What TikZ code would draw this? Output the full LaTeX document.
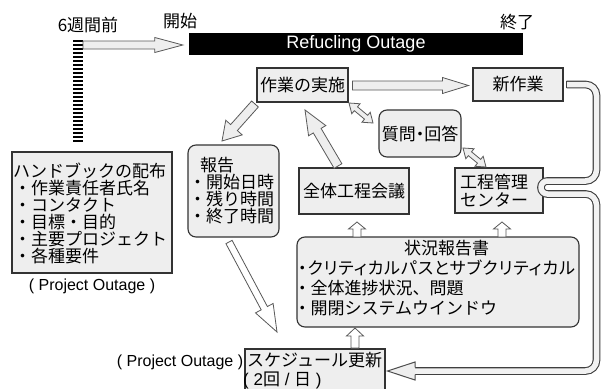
\documentclass[tikz,border=0pt]{standalone}
\usepackage{fontspec}
\setmainfont{Liberation Sans}
\newfontfamily\jp{Noto Sans CJK JP}
\newfontfamily\jpp{Noto Sans CJK JP}[RawFeature=+palt]
\newfontfamily\jpw{Noto Sans CJK JP}[RawFeature=+palt, LetterSpace=5]
\usetikzlibrary{calc}
\newcommand\blkarrow[6][]{%
  \coordinate (bkH) at ($(#3)!#6!(#2)$);
  \draw[blockarr,#1] ($(#2)!#4!90:(#3)$) -- ($(bkH)!#4!90:(#3)$) -- ($(bkH)!#5!90:(#3)$) -- (#3) -- ($(bkH)!#5!-90:(#3)$) -- ($(bkH)!#4!-90:(#3)$) -- ($(#2)!#4!-90:(#3)$) -- cycle;
}
\newcommand\dblarrow[6][]{%
  \coordinate (dbA) at ($(#2)!#6!(#3)$);
  \coordinate (dbB) at ($(#3)!#6!(#2)$);
  \draw[blockarr,#1] (#2) -- ($(dbA)!#5!90:(#3)$) -- ($(dbA)!#4!90:(#3)$) -- ($(dbB)!#4!90:(#3)$) -- ($(dbB)!#5!90:(#3)$) -- (#3) -- ($(dbB)!#5!-90:(#3)$) -- ($(dbB)!#4!-90:(#3)$) -- ($(dbA)!#4!-90:(#3)$) -- ($(dbA)!#5!-90:(#3)$) -- cycle;
}
\begin{document}
\begin{tikzpicture}[x=1pt,y=-1pt,
  box/.style={draw=black!80, fill=gray!13, line width=1.1pt, inner sep=0pt},
  rbox/.style={box, rounded corners=8pt},
  blockarr/.style={draw=black!65, fill=gray!13, line width=0.8pt, line join=miter},
  whitearr/.style={fill=white},
  jtxt/.style={font=\jp\fontsize{17}{17}\selectfont, inner sep=0pt},
  ltxt/.style={font=\fontsize{16}{18}\selectfont, inner sep=0pt},
  pipe/.style={draw=black!75, line width=1.1pt, double=gray!10, double distance=5.5pt},
]
\fill[white] (0,0) rectangle (602,388);
\useasboundingbox (0,0) rectangle (602,388);
\clip (0,0) rectangle (602,388);

% top labels and bar
\node[jtxt] (weeks) at (88,25) {6週間前};
\node[jtxt] (startlbl) at (180,21) {開始};
\node[jtxt] (endlbl) at (517,22) {終了};
\node[fill=black, minimum width=334pt, minimum height=22pt, inner sep=0pt, text=white, font=\fontsize{18}{18}\selectfont] (outage) at (356,44) {Refucling Outage};
\draw[line width=10pt, dash pattern=on 2pt off 2pt] (78,40) coordinate (bartop) -- (78,143) coordinate (barbot);

% boxes
\node[box, jtxt, minimum width=91pt, minimum height=34pt] (jisshi) at (302.5,85) {作業の実施};
\node[box, jtxt, minimum width=90pt, minimum height=33pt] (shin) at (518,84.5) {新作業};
\node[rbox, font=\jpp\fontsize{17}{17}\selectfont, minimum width=82pt, minimum height=47pt] (qa) at (420,133.5) {質問・回答};
\node[box, minimum width=88pt, minimum height=45pt] (kanri) at (499,190.5) {};
\node[align=left, anchor=west, inner sep=0pt, font=\jp\fontsize{17}{18}\selectfont] (kanritext) at (460,191) {工程管理\\センター};
\node[box, jtxt, minimum width=110pt, minimum height=46pt] (kaigi) at (354,191) {全体工程会議};
\node[rbox, minimum width=91pt, minimum height=92pt] (houkoku) at (233.5,191) {};
\node[align=left, anchor=west, inner sep=0pt, font=\jp\fontsize{17}{17}\selectfont] (houkokutext) at (189,190.5) {\hspace*{11pt}報告\\・開始日時\\・残り時間\\・終了時間};
\node[rbox, minimum width=282pt, minimum height=90pt] (joukyou) at (438,282) {};
\node[align=left, anchor=west, inner sep=0pt, font=\jp\fontsize{17}{20}\selectfont] (joukyoutext) at (298,278) {\hspace*{106pt}状況報告書\\{\jpw ・クリティカルパスとサブクリティカル}\\{\jpp・}\hspace{4pt}全体進捗状況、問題\\{\jpp・}\hspace{4pt}開閉システムウインドウ};
\node[box, minimum width=140pt, minimum height=52pt] (sched) at (315,375) {};
\node[jtxt, anchor=west] (schedA) at (247,360) {スケジュール更新};
\node[jtxt, anchor=west] (schedB) at (243,380) {{\rmfamily( 2}回{\rmfamily\ / }日{\rmfamily\ )}};
\node[ltxt] (po2) at (180,362) {( Project Outage )};
\node[box, minimum width=160pt, minimum height=121pt] (handbook) at (92,212.5) {};
\node[align=left, anchor=west, inner sep=0pt, font=\jp\fontsize{17}{17}\selectfont] (handbooktext) at (13,213) {ハンドブックの配布\\\hspace*{1pt}・作業責任者氏名\\\hspace*{1pt}・コンタクト\\\hspace*{1pt}・目標・目的\\\hspace*{1pt}・主要プロジェクト\\\hspace*{1pt}・各種要件};
\node[ltxt] (po1) at (92,286) {( Project Outage )};

% arrow end points
\coordinate (a1) at (83,45);
\coordinate (a2) at ($(outage.west)+(-6,1)$);
\coordinate (b1) at ($(jisshi.east)+(4,0.5)$);
\coordinate (b2) at ($(shin.west)+(-4,1)$);
\coordinate (c1) at (255,104);
\coordinate (c2) at (222,141);
\coordinate (d1) at (338,166);
\coordinate (d2) at (305,110);
\coordinate (e1) at (229,242);
\coordinate (e2) at (277,332);
\coordinate (f1) at (357,237);
\coordinate (f2) at (357,222);
\coordinate (g1) at (502,237);
\coordinate (g2) at (502,222);
\coordinate (h1) at (355,348);
\coordinate (h2) at (355,328);
\coordinate (i1) at (349,103);
\coordinate (i2) at (373,123);
\coordinate (j1) at (463,148);
\coordinate (j2) at (486,167);

\blkarrow{a1}{a2}{4pt}{7.5pt}{28pt}
\blkarrow{b1}{b2}{4.5pt}{8pt}{26pt}
\blkarrow{c1}{c2}{4.5pt}{11pt}{18pt}
\blkarrow{d1}{d2}{4.5pt}{10pt}{24pt}
\blkarrow[whitearr]{e1}{e2}{3.5pt}{10pt}{27pt}
\blkarrow[whitearr]{f1}{f2}{4pt}{8.5pt}{7pt}
\blkarrow[whitearr]{g1}{g2}{4pt}{8.5pt}{7pt}
\blkarrow[whitearr]{h1}{h2}{4pt}{8.5pt}{8pt}
\dblarrow{i1}{i2}{2.5pt}{6.5pt}{9pt}
\dblarrow{j1}{j2}{2.5pt}{6.5pt}{9pt}

% pipe from shin to sched
\coordinate (p0) at ($(shin.east)+(3,0)$);
\coordinate (pe) at (415,371);
\coordinate (ptip) at ($(sched.east)+(2,-4)$);
\draw[pipe] (p0) [rounded corners=11pt] -- (596.5,84.5) -- (596.5,181) [rounded corners=6.4pt] -- (541,181) -- (541,194) [rounded corners=11pt] -- (596.5,194) -- (596.5,371) [sharp corners] -- (pe);
\draw[black!75, line width=1.1pt] ($(p0)+(0,-3.85)$) -- ($(p0)+(0,3.85)$);
\fill[gray!13] (415,362) -- (ptip) -- (415,380) -- cycle;
\draw[black!70, line width=1pt, line join=miter] (415,367.3) -- (415,362) -- (ptip) -- (415,380) -- (415,374.7);
\end{tikzpicture}
\end{document}
